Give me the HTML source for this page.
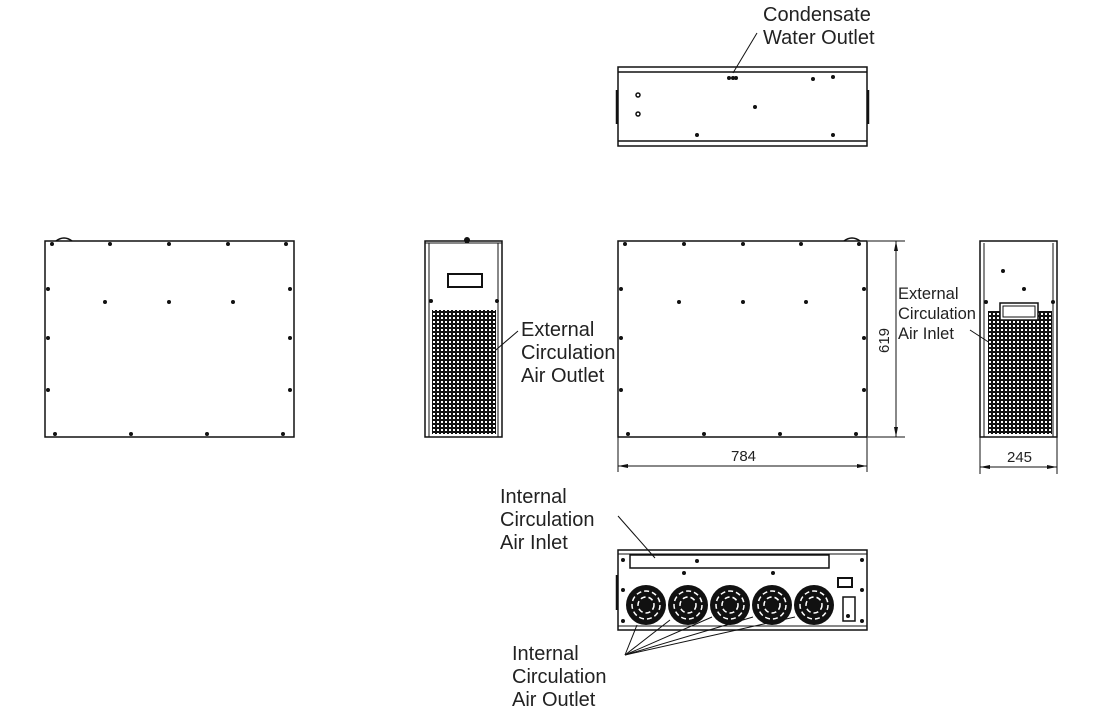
<!DOCTYPE html>
<html><head><meta charset="utf-8"><style>
html,body{margin:0;padding:0;background:#fff;}
svg{display:block;}
text{font-family:"Liberation Sans",Arial,sans-serif;fill:#222;}
</style></head><body>
<svg width="1120" height="724" viewBox="0 0 1120 724" xmlns="http://www.w3.org/2000/svg">
<defs>
<pattern id="mesh" width="4" height="4" patternUnits="userSpaceOnUse">
<rect width="4" height="4" fill="#111"/><rect x="1" y="1" width="2" height="2" fill="#fff"/>
</pattern>
<marker id="ar" markerWidth="10" markerHeight="6" refX="10" refY="3" orient="auto-start-reverse" markerUnits="userSpaceOnUse">
<path d="M0,1 L10,3 L0,5z" fill="#111"/></marker>
</defs>
<g stroke="#111" fill="none" stroke-width="1.5">
<rect x="618" y="67" width="249" height="79"/>
<line x1="618" y1="72" x2="867" y2="72"/>
<line x1="618" y1="141" x2="867" y2="141"/>
<line x1="617" y1="90" x2="617" y2="124" stroke-width="2.5"/>
<line x1="868" y1="90" x2="868" y2="124" stroke-width="2.5"/>
<circle cx="638" cy="95" r="2"/><circle cx="638" cy="114" r="2"/>
<line x1="757" y1="33" x2="733" y2="73" stroke-width="1"/>
<rect x="45" y="241" width="249" height="196"/>
<path d="M56,241 q8,-6 16,0"/>
<rect x="425" y="241" width="77" height="196"/>
<line x1="429" y1="243" x2="429" y2="437" stroke-width="1"/>
<line x1="498" y1="243" x2="498" y2="437" stroke-width="1"/>
<line x1="425" y1="243" x2="502" y2="243" stroke-width="1"/>
<rect x="448" y="274" width="34" height="13" stroke-width="2"/>
<line x1="518" y1="331" x2="490" y2="355" stroke-width="1"/>
<rect x="618" y="241" width="249" height="196"/>
<path d="M844,241 q8,-6 16,0"/>
<line x1="868" y1="241" x2="905" y2="241" stroke-width="1"/>
<line x1="868" y1="437" x2="905" y2="437" stroke-width="1"/>
<line x1="896" y1="241" x2="896" y2="437" stroke-width="1" marker-start="url(#ar)" marker-end="url(#ar)"/>
<line x1="618" y1="437" x2="618" y2="472" stroke-width="1"/>
<line x1="867" y1="437" x2="867" y2="472" stroke-width="1"/>
<line x1="618" y1="466" x2="867" y2="466" stroke-width="1" marker-start="url(#ar)" marker-end="url(#ar)"/>
<line x1="980" y1="437" x2="980" y2="474" stroke-width="1"/>
<line x1="1057" y1="437" x2="1057" y2="474" stroke-width="1"/>
<line x1="980" y1="467" x2="1057" y2="467" stroke-width="1" marker-start="url(#ar)" marker-end="url(#ar)"/>
<rect x="980" y="241" width="77" height="196"/>
<line x1="984" y1="243" x2="984" y2="437" stroke-width="1"/>
<line x1="1053" y1="243" x2="1053" y2="437" stroke-width="1"/>
<line x1="970" y1="330" x2="990" y2="343" stroke-width="1"/>
<rect x="618" y="550" width="249" height="80"/>
<line x1="618" y1="554" x2="867" y2="554" stroke-width="1"/>
<line x1="618" y1="626" x2="867" y2="626" stroke-width="1"/>
<rect x="630" y="555" width="199" height="13"/>
<line x1="617" y1="575" x2="617" y2="610" stroke-width="2.5"/>
<line x1="618" y1="516" x2="655" y2="558" stroke-width="1"/>
<rect x="838" y="578" width="14" height="9" stroke-width="2"/>
<rect x="843" y="597" width="12" height="24" stroke-width="1.5"/>
<g stroke-width="1">
<line x1="625" y1="655" x2="637" y2="625"/><line x1="625" y1="655" x2="670" y2="620"/>
<line x1="625" y1="655" x2="712" y2="617"/><line x1="625" y1="655" x2="753" y2="617"/>
<line x1="625" y1="655" x2="795" y2="617"/>
</g>
</g>
<rect x="432" y="310" width="64" height="124" fill="url(#mesh)"/>
<rect x="988" y="311" width="64" height="123" fill="url(#mesh)"/>
<rect x="1000" y="303" width="38" height="17" fill="#fff" stroke="#111" stroke-width="1.5"/>
<rect x="1003" y="306" width="32" height="11" fill="none" stroke="#111" stroke-width="1"/>
<g fill="#111">
<circle cx="646" cy="605" r="20"/><circle cx="688" cy="605" r="20"/><circle cx="730" cy="605" r="20"/><circle cx="772" cy="605" r="20"/><circle cx="814" cy="605" r="20"/>
</g>
<g fill="none" stroke="#fff" stroke-width="1.5" stroke-dasharray="5 3">
<circle cx="646" cy="605" r="14"/><circle cx="688" cy="605" r="14"/><circle cx="730" cy="605" r="14"/><circle cx="772" cy="605" r="14"/><circle cx="814" cy="605" r="14"/>
<circle cx="646" cy="605" r="8"/><circle cx="688" cy="605" r="8"/><circle cx="730" cy="605" r="8"/><circle cx="772" cy="605" r="8"/><circle cx="814" cy="605" r="8"/>
</g>
<g fill="#111">
<circle cx="729" cy="78" r="2"/><circle cx="733" cy="78" r="2"/><circle cx="736" cy="78" r="2"/>
<circle cx="813" cy="79" r="2"/><circle cx="833" cy="77" r="2"/><circle cx="755" cy="107" r="2"/>
<circle cx="697" cy="135" r="2"/><circle cx="833" cy="135" r="2"/>
<circle cx="52" cy="244" r="2"/><circle cx="110" cy="244" r="2"/><circle cx="169" cy="244" r="2"/><circle cx="228" cy="244" r="2"/><circle cx="286" cy="244" r="2"/>
<circle cx="48" cy="289" r="2"/><circle cx="48" cy="338" r="2"/><circle cx="48" cy="390" r="2"/>
<circle cx="290" cy="289" r="2"/><circle cx="290" cy="338" r="2"/><circle cx="290" cy="390" r="2"/>
<circle cx="105" cy="302" r="2"/><circle cx="169" cy="302" r="2"/><circle cx="233" cy="302" r="2"/>
<circle cx="55" cy="434" r="2"/><circle cx="131" cy="434" r="2"/><circle cx="207" cy="434" r="2"/><circle cx="283" cy="434" r="2"/>
<circle cx="625" cy="244" r="2"/><circle cx="684" cy="244" r="2"/><circle cx="743" cy="244" r="2"/><circle cx="801" cy="244" r="2"/><circle cx="859" cy="244" r="2"/>
<circle cx="621" cy="289" r="2"/><circle cx="621" cy="338" r="2"/><circle cx="621" cy="390" r="2"/>
<circle cx="864" cy="289" r="2"/><circle cx="864" cy="338" r="2"/><circle cx="864" cy="390" r="2"/>
<circle cx="679" cy="302" r="2"/><circle cx="743" cy="302" r="2"/><circle cx="806" cy="302" r="2"/>
<circle cx="628" cy="434" r="2"/><circle cx="704" cy="434" r="2"/><circle cx="780" cy="434" r="2"/><circle cx="856" cy="434" r="2"/>
<circle cx="431" cy="301" r="2"/><circle cx="497" cy="301" r="2"/><circle cx="467" cy="240" r="3"/>
<circle cx="1003" cy="271" r="2"/><circle cx="1024" cy="289" r="2"/><circle cx="986" cy="302" r="2"/><circle cx="1053" cy="302" r="2"/>
<circle cx="623" cy="560" r="2"/><circle cx="697" cy="561" r="2"/><circle cx="684" cy="573" r="2"/><circle cx="773" cy="573" r="2"/>
<circle cx="862" cy="560" r="2"/><circle cx="623" cy="590" r="2"/><circle cx="862" cy="590" r="2"/>
<circle cx="623" cy="621" r="2"/><circle cx="862" cy="621" r="2"/><circle cx="848" cy="616" r="2"/>
</g>
<g font-size="20">
<text x="763" y="21">Condensate</text><text x="763" y="44">Water Outlet</text>
<text x="521" y="336">External</text><text x="521" y="359">Circulation</text><text x="521" y="382">Air Outlet</text>
<text x="500" y="503">Internal</text><text x="500" y="526">Circulation</text><text x="500" y="549">Air Inlet</text>
<text x="512" y="660">Internal</text><text x="512" y="683">Circulation</text><text x="512" y="706">Air Outlet</text>
</g>
<g font-size="16.5">
<text x="898" y="299">External</text><text x="898" y="319">Circulation</text><text x="898" y="339">Air Inlet</text>
</g>
<g font-size="15">
<text x="731" y="461">784</text>
<text x="1007" y="462">245</text>
<text transform="translate(889,353) rotate(-90)">619</text>
</g>
</svg>
</body></html>
